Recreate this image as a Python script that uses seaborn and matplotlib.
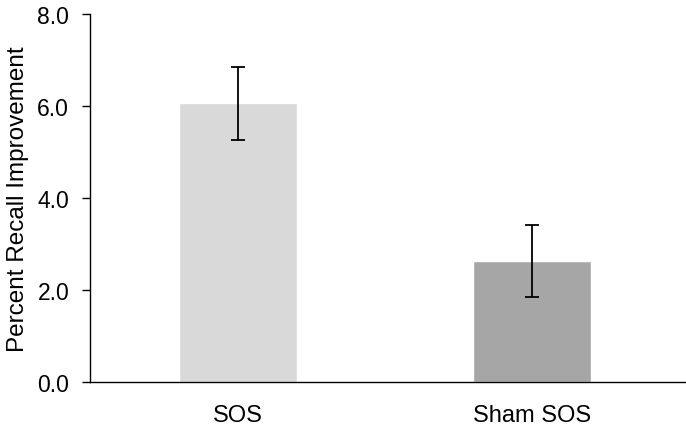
import numpy as np
import pandas as pd
import seaborn as sns
import matplotlib.pyplot as plt

# values
groups = ["SOS", "Sham SOS"]
means = [6.06, 2.63]
errors = [0.79, 0.78]
bar_colors = ["#d9d9d9", "#a6a6a6"]
yticks = [0.0, 2.0, 4.0, 6.0, 8.0]

df = pd.DataFrame({"group": groups, "value": means})

sns.set_style("white")
plt.rcParams["font.family"] = ["Liberation Sans", "DejaVu Sans"]

fig = plt.figure(figsize=(6.86, 4.31), dpi=100)
ax = fig.add_axes([90 / 686, 1 - 383 / 431, 1 - 90 / 686, 368 / 431])

sns.barplot(data=df, x="group", y="value", hue="group", palette=bar_colors,
            width=0.4, errorbar=None, legend=False, ax=ax, saturation=1)
ax.errorbar(range(len(groups)), means, yerr=errors, fmt="none", ecolor="black",
            elinewidth=1.3, capsize=5, capthick=1.3)

ax.set_xlim(-0.503, 1.524)
ax.set_ylim(0, 8)
ax.set_yticks(yticks)
ax.set_yticklabels([f"{t:.1f}" for t in yticks])
ax.set_xlabel("")
ax.set_ylabel("Percent Recall Improvement", fontsize=17.5, labelpad=6, color="black")
ax.tick_params(axis="y", length=6, width=1, color="black", labelsize=16.5,
               direction="out", left=True, pad=9, labelcolor="black")
ax.tick_params(axis="x", length=0, labelsize=17, pad=16, labelcolor="black")
sns.despine(ax=ax)
for s in ["left", "bottom"]:
    ax.spines[s].set_color("black")
    ax.spines[s].set_linewidth(1)

fig.savefig("out.png", dpi=100)
